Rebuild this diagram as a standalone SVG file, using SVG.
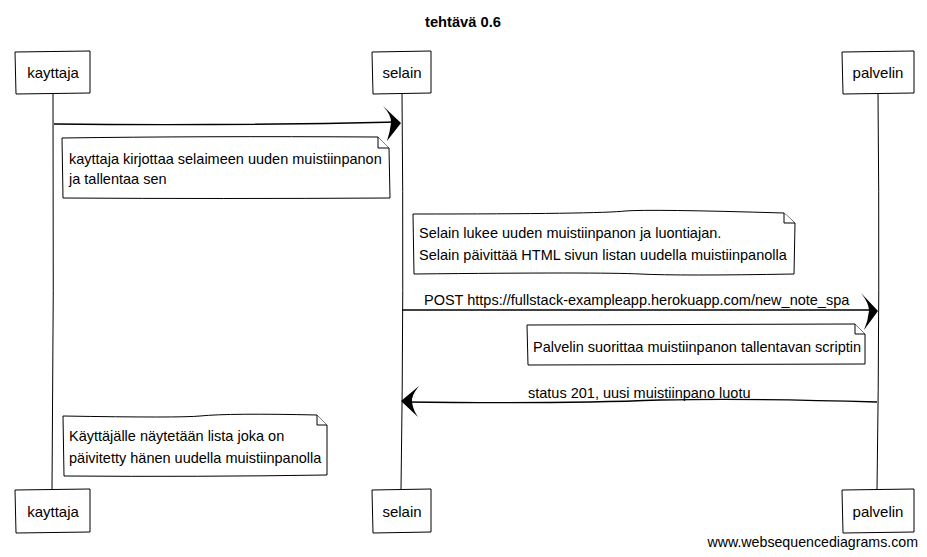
<svg xmlns="http://www.w3.org/2000/svg" width="927" height="557" viewBox="0 0 927 557">
<style>
text{font-family:"Liberation Sans",Arial,sans-serif;font-size:14.5px;fill:#000}
.title{font-size:14.7px;font-weight:bold}
.part{font-size:15px}
.foot{font-size:14.2px}
.box{fill:#fff;stroke:#000;stroke-width:1}
.life{fill:none;stroke:#000;stroke-width:1}
.note{fill:#fff;stroke:#000;stroke-width:1}
.msg{fill:none;stroke:#000;stroke-width:1.3}
.head{fill:#000;stroke:none}
</style>
<rect width="927" height="557" fill="#fff"/>
<text class="title" x="463" y="27" text-anchor="middle">tehtävä 0.6</text>

<g id="lifelines">
<path class="life" d="M53,93 Q54,290 52,490"/>
<path class="life" d="M402,93 Q404,290 401,490"/>
<path class="life" d="M878,93 Q880,290 877,490"/>
</g>

<g id="kayttaja">
<path class="box" d="M15,52 L90,51 L90,93 L16,94 Z"/>
<text class="part" x="53" y="78" text-anchor="middle">kayttaja</text>
<path class="box" d="M15,490 L90,489 L90,532 L16,533 Z"/>
<text class="part" x="53" y="517" text-anchor="middle">kayttaja</text>
</g>
<g id="selain">
<path class="box" d="M372,52 L431,51 L431,93 L373,94 Z"/>
<text class="part" x="402" y="78" text-anchor="middle">selain</text>
<path class="box" d="M372,490 L431,489 L431,532 L373,533 Z"/>
<text class="part" x="402" y="517" text-anchor="middle">selain</text>
</g>
<g id="palvelin">
<path class="box" d="M842,52 L914,51 L914,93 L843,94 Z"/>
<text class="part" x="878" y="78" text-anchor="middle">palvelin</text>
<path class="box" d="M842,490 L914,489 L914,532 L843,533 Z"/>
<text class="part" x="878" y="517" text-anchor="middle">palvelin</text>
</g>

<g id="connectors">
<path class="msg" d="M54,124 Q220,126 398,122"/>
<path class="head" d="M401,123 L383,106 Q392,116 391,123 Q390,132 387,141 Z"/>
<path class="msg" d="M402,310 Q640,311 875,310"/>
<text x="424" y="305">POST https://fullstack-exampleapp.herokuapp.com/new_note_spa</text>
<path class="head" d="M878,311 L861,293 Q869,303 869,311 Q868,321 864,330 Z"/>
<path class="msg" d="M877,402 Q750,398 660,400 Q560,404 405,402"/>
<text x="528" y="398">status 201, uusi muistiinpano luotu</text>
<path class="head" d="M401,401 L419,386 Q411,396 412,402 Q413,410 418,417 Z"/>
</g>

<g id="note1">
<path class="note" d="M62,138 Q200,136 378,137 L389,148 L390,198 Q220,199 63,198 Z"/>
<path class="note" d="M378,137 L378,148 L389,148"/>
<text x="69" y="164">kayttaja kirjottaa selaimeen uuden muistiinpanon</text>
<text x="69" y="184">ja tallentaa sen</text>
</g>
<g id="note2">
<path class="note" d="M413,214 Q600,214 625,211 Q650,209 784,213 L795,223 L794,274 Q680,276 640,274 Q600,272 414,274 Z"/>
<path class="note" d="M784,213 L784,223 L795,223"/>
<text x="419" y="238">Selain lukee uuden muistiinpanon ja luontiajan.</text>
<text x="419" y="260">Selain päivittää HTML sivun listan uudella muistiinpanolla</text>
</g>
<g id="note3">
<path class="note" d="M527,325 L855,324 L865,334 L865,364 L528,365 Z"/>
<path class="note" d="M855,324 L855,334 L865,334"/>
<text x="533" y="352">Palvelin suorittaa muistiinpanon tallentavan scriptin</text>
</g>
<g id="note4">
<path class="note" d="M63,416 Q180,418 200,416 Q230,413 317,415 L327,425 L327,475 Q200,477 64,476 Z"/>
<path class="note" d="M317,415 L317,425 L327,425"/>
<text x="69" y="441">Käyttäjälle näytetään lista joka on</text>
<text x="69" y="463">päivitetty hänen uudella muistiinpanolla</text>
</g>

<text class="foot" x="918" y="547" text-anchor="end">www.websequencediagrams.com</text>
</svg>
